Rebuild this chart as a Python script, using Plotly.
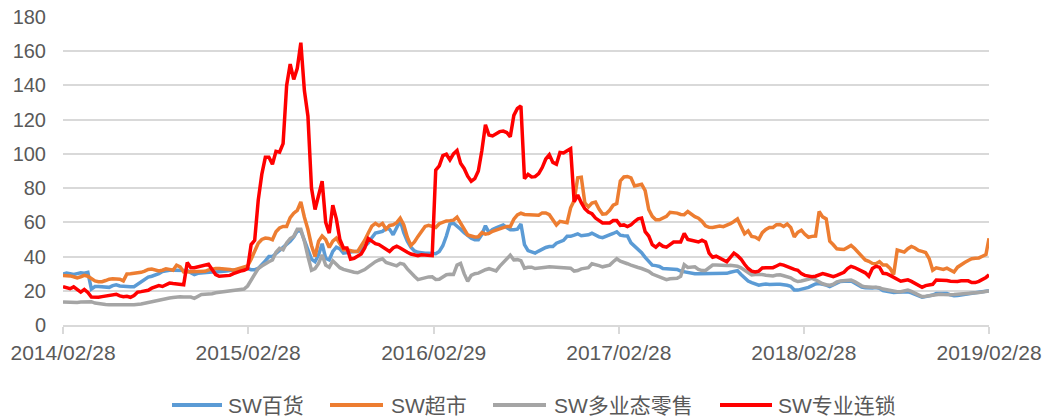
import pandas as pd
import plotly.graph_objects as go

# Weekly dates (Fridays) from 2014/02/28, plus final date 2019/02/28
dates = list(pd.date_range("2014-02-28", periods=261, freq="7D")) + [pd.Timestamp("2019-02-28")]

tick_dates = ["2014-02-28", "2015-02-28", "2016-02-29", "2017-02-28", "2018-02-28", "2019-02-28"]
tick_labels = ["2014/02/28", "2015/02/28", "2016/02/29", "2017/02/28", "2018/02/28", "2019/02/28"]

names = ["SW百货", "SW超市", "SW多业态零售", "SW专业连锁"]

sw_baihuo = [
    29.8, 30.3, 30, 29.5, 30, 30.5, 30.3, 30.8, 21, 22.5,
    22.5, 22.3, 22.2, 22, 23, 23.5, 22.8, 22.5, 22.4, 22.4,
    22.4, 23.8, 25.5, 27.2, 28, 28.5, 29.2, 30, 31.3, 31.8,
    32, 32, 32, 31.8, 32, 31.8, 30.5, 29.5, 30.2, 30.5,
    30.5, 30.8, 31, 31, 31, 31.3, 31.5, 31.8, 32, 32.3,
    32.5, 32.8, 33, 32.3, 32.3, 33, 35, 37.5, 40, 40,
    41.8, 43.5, 45, 47, 49, 51.5, 55, 55, 49.5, 43,
    38.5, 37, 41, 47.5, 39, 38, 43, 45.5, 44.5, 42,
    42.5, 43, 43, 43, 43.5, 46, 48, 51, 53.7, 54.2,
    54.7, 56.5, 56, 52.7, 57, 61, 54, 49, 45.5, 43.3,
    42.5, 42, 42, 42, 42, 41.7, 43, 46.3, 52, 59,
    59.5, 58, 56, 54, 52, 50.7, 49.8, 49.8, 53, 58,
    54, 55.8, 56.8, 57.6, 58.5, 57, 55.7, 55.7, 56, 59,
    47, 43.5, 42.7, 42, 43.2, 44.3, 45.3, 45.9, 45.9, 47.8,
    48.5, 49.5, 51.8, 51.8, 52.5, 53.3, 52.2, 52.3, 52.7, 53.6,
    52.5, 51.5, 51, 51.8, 52.3, 53.5, 54.5, 52.5, 52.2, 52,
    48, 46, 44.5, 42.2, 39.5, 37.3, 35, 34.7, 34.2, 33,
    32.8, 32.5, 32.5, 32.5, 31.5, 31, 31, 30.5, 30, 30,
    30, 30, 30.3, 30.5, 30.5, 30.3, 30, 30.2, 30.8, 31.4,
    31.8, 29.5, 27.5, 25.7, 24.8, 24, 23.3, 23.7, 24, 23.7,
    23.5, 23.8, 23.8, 23.6, 23.2, 22.6, 20.5, 20.4, 20.9, 21.4,
    22, 23, 24, 24.2, 23.9, 23.3, 22.4, 23.5, 24.8, 25.4,
    25.5, 25.8, 25.7, 24.6, 23.3, 22.1, 21.8, 21.6, 21.6, 21.9,
    21.5, 20.1, 19.7, 19.3, 19, 19.1, 19.3, 19.4, 19.4, 18.8,
    18.1, 17.1, 16.2, 16.6, 16.9, 17.5, 18.4, 18.3, 18.1, 18.4,
    17.6, 17.1, 17.3, 17.5, 17.8, 18.1, 18.5, 18.8, 19.1, 19.4,
    19.7, 20,
]

sw_chaoshi = [
    29, 29, 28.7, 28.2, 27.5, 28.2, 29, 28.5, 27.2, 25.8,
    25.3, 25.3, 26, 26.8, 27, 27, 26.8, 25.8, 29.8, 30,
    30.2, 30.5, 30.8, 31.5, 32.5, 32.7, 32, 31.6, 32, 32.8,
    32.5, 32, 35, 34, 31, 31, 31, 31, 31, 31,
    31.4, 32.2, 32.8, 33, 33, 33, 33, 32.5, 32, 32.6,
    33, 33.5, 34.5, 38.5, 43, 47.8, 50, 50.8, 50.6, 49.8,
    54.5, 56.7, 57.6, 57.6, 62.7, 65.3, 67, 72, 63, 55.8,
    46.5, 40, 49, 52, 50, 45.3, 49, 50.8, 47.5, 44,
    44, 43.3, 43, 43, 46, 49.5, 53.8, 57.8, 59.4, 58,
    59.3, 56, 58.2, 58.6, 59.8, 62.4, 58.5, 51.3, 46.5, 48.5,
    51.8, 54.9, 57.6, 58.3, 57.8, 57, 59.2, 60, 60.8, 61,
    61.3, 63, 59.8, 56.2, 52.6, 52, 51.4, 51.6, 54, 53.1,
    53.5, 54.8, 55.5, 56.2, 56.9, 57.6, 57.5, 61.8, 64.3, 65.3,
    64.6, 64.5, 64.3, 63.8, 64.1, 65.5, 65.5, 64.5, 61.2, 58.5,
    60.6, 60.4, 59.8, 68.5, 72.8, 86, 86.3, 71.4, 69, 71.3,
    71.8, 67.8, 64.8, 65, 67, 70, 71, 84.2, 86.5, 86.8,
    86, 81.3, 82, 82.3, 78.5, 67.5, 63.5, 61.5, 61.5, 62.5,
    63.5, 65.9, 65.7, 65.4, 64.6, 64.5, 66.3, 64.5, 63.3, 62.4,
    60.6, 58, 57.1, 57, 57.6, 57.8, 57.5, 58.3, 59.2, 60.5,
    62, 57.5, 53.3, 55, 51.8, 51.4, 50.1, 54, 55.9, 57,
    57, 58.6, 58.7, 57.6, 59, 57, 51.5, 54.2, 55.4, 53,
    51.3, 51.8, 52, 66.3, 63.2, 62, 49, 46.9, 44.5, 44.3,
    44.1, 45.3, 46.5, 44.7, 42.5, 40, 38, 37.2, 36, 35.8,
    37, 35, 35, 33.1, 29.5, 43.8, 43.2, 42.6, 44.6, 45.9,
    45, 43.6, 43, 42.4, 38.8, 32, 33.4, 33, 32.5, 33.2,
    32, 31, 33.8, 35.4, 36.5, 37.7, 38.7, 39, 39.2, 40.2,
    41.2, 50.7,
]

sw_duoyetai = [
    13.5, 13.3, 13.2, 13, 13.2, 13.4, 13.6, 13.9, 13.6, 12.8,
    12.4, 12.2, 12, 11.9, 11.8, 11.8, 11.7, 11.6, 11.7, 11.8,
    11.8, 11.9, 12.3, 12.7, 13.2, 13.8, 14.3, 14.7, 15, 15.4,
    15.8, 16.1, 16.5, 16.5, 16.4, 16.5, 16.3, 15.6, 16.8, 17.8,
    18, 18, 18.3, 18.8, 19.1, 19.3, 19.5, 19.8, 20.1, 20.5,
    20.5, 21, 22.8, 26, 29.5, 33, 34.5, 36, 37, 38,
    42.5, 44.8, 44, 48, 50.5, 51.8, 56, 56, 49, 40,
    32, 33, 36, 41, 35, 33.7, 37.5, 35.5, 33.5, 32.5,
    31.8, 31.2, 30.8, 30.5, 31.3, 32.4, 34, 35.6, 37, 38,
    38.7, 36.6, 36, 35.6, 34.6, 36, 35.5, 32.8, 30.4, 28.5,
    26.5, 27, 28, 28.1, 28.2, 26.6, 26.7, 28, 29.4, 29.6,
    29.5, 35, 36, 30, 25.5, 29, 30, 30.3, 31.6, 32.3,
    32.9, 32, 31.6, 34.3, 36.6, 38.8, 40.8, 38, 38.2, 37.6,
    33.2, 33.7, 33.8, 33, 33.1, 33.5, 33.8, 34, 33.9, 33.7,
    33.6, 33.5, 33.5, 33.2, 31.5, 31.8, 32.8, 33, 33.5, 35.8,
    35.4, 34.7, 34, 34.4, 35, 37, 38.7, 37.3, 36.3, 35.8,
    35, 34.1, 33.6, 33, 32.4, 31.4, 29.8, 28.9, 28.2, 27,
    26.5, 27, 27.1, 27.3, 28.5, 35.2, 33.6, 33.7, 34, 32.5,
    31.8, 31.9, 33.5, 35, 35, 34.8, 34.6, 34.7, 34.9, 34.8,
    34.4, 33.4, 31.9, 30.3, 29.3, 29.5, 29.7, 29.5, 29.1, 28.8,
    28.7, 29.2, 29.3, 28.8, 28.2, 27.6, 26.2, 25.4, 25.7, 26.3,
    26.9, 27.3, 26.4, 25.2, 24.1, 23.5, 23.3, 23.8, 25.2, 25.7,
    26, 26, 26.3, 25.4, 24.1, 22.9, 22.3, 22, 22, 22,
    21.8, 21, 20.5, 20.1, 19.8, 19.5, 19.5, 19.8, 20.4, 19.6,
    18.6, 17.6, 16.6, 16.8, 17.2, 17.7, 18, 18, 17.8, 17.6,
    17.7, 17.8, 17.9, 18.1, 18.4, 18.6, 18.7, 18.8, 19, 19.3,
    19.6, 19.9,
]

sw_zhuanye = [
    22.4, 22, 21.2, 22.3, 20.5, 19.2, 20.8, 19, 16.3, 16,
    16.2, 16.6, 17, 17.3, 17.7, 18, 17, 16.5, 16.8, 16.2,
    17.2, 19.2, 19.5, 19.8, 20.3, 21.5, 22.5, 23, 22.5, 23.5,
    24.5, 24.2, 24, 23.5, 23.5, 36.5, 33.5, 33.5, 34, 34,
    34.5, 35.5, 32.5, 29.5, 28.5, 28.5, 28.5, 29, 30, 31,
    31.5, 32, 33, 47, 49.5, 73, 88, 98, 98, 94,
    101.5, 101, 106, 140, 152.5, 143.5, 150, 165, 137, 122,
    80, 67.5, 75, 84, 60, 53.7, 70, 62, 50, 45,
    45, 38.5, 39, 40, 41.5, 45, 50.5, 49, 47.5, 47,
    45.5, 44, 43, 45, 46, 45, 43.5, 42.5, 41.5, 41,
    40.5, 41, 41, 40.5, 40.5, 90.5, 93, 99, 99.8, 96.5,
    100, 102, 94.5, 91.5, 87, 84, 85.5, 90, 102, 117,
    111, 110.5, 112, 113, 113.3, 112.5, 110, 122.5, 126.5, 128,
    85.5, 88, 86.5, 86.7, 88.5, 92, 97, 99.5, 95, 94,
    100.8, 100.5, 101.8, 103, 72, 76, 71.5, 68, 66, 65,
    62.5, 61, 59.6, 59.6, 59.6, 61, 61, 58.2, 58.5, 57.5,
    58.5, 60.5, 62, 62.5, 54.5, 52, 47, 45.5, 47.5, 46,
    45.5, 47, 48.5, 48.5, 48.5, 53.5, 50, 49.5, 49, 48.5,
    49.5, 48.5, 42, 39.6, 40.2, 39, 38, 37, 39.5, 42,
    40.5, 38.5, 35.5, 33, 31.5, 31, 31.5, 33.3, 33.5, 33.5,
    33.5, 34.5, 35.5, 35, 34, 33.3, 32.5, 32, 30, 29,
    28.5, 28.2, 28.5, 29.5, 30, 29.5, 28.8, 28.3, 29, 29.8,
    30.8, 33, 34.3, 33.6, 32.5, 31.5, 30.5, 28.5, 33, 34.3,
    33.8, 30.2, 30, 29, 27.7, 26.4, 25.6, 26, 26.4, 25.5,
    24.2, 23, 22, 23, 23.4, 23.8, 26.3, 26.3, 25.8, 26,
    25.6, 25.4, 25.4, 25.8, 26, 25.8, 24.8, 24.8, 25.5, 26.5,
    27.8, 29.3,
]

series = [sw_baihuo, sw_chaoshi, sw_duoyetai, sw_zhuanye]
colors = ["#5B9BD5", "#ED7D31", "#A5A5A5", "#FF0000"]

font_family = "Liberation Sans, Noto Sans CJK SC, sans-serif"
text_color = "#595959"
grid_color = "#D9D9D9"
FS = 21

# Figure fills the whole window (page body margin removed by post_script)
W, H = 1057, 416
ML, MR, MT, MB = 63, 68, 17, 91
PW, PH = W - ML - MR, H - MT - MB


def px_x(p):
    """window pixel x -> paper coordinate"""
    return (p - ML) / PW


def px_y(p):
    """window pixel y -> paper coordinate"""
    return (H - MB - p) / PH


fig = go.Figure()
for name, vals, col in zip(names, series, colors):
    n = min(len(vals), len(dates))
    fig.add_trace(go.Scatter(
        x=dates[:n], y=vals[:n], mode="lines", name=name,
        line=dict(color=col, width=3.5), hoverinfo="skip", showlegend=False,
    ))

# legend drawn manually (line sample + label), laid out like the original
legend_line_px = [(172, 222), (330, 383), (493, 546), (720, 772)]
legend_text_px = [226, 389, 552, 776]
legend_y = px_y(405)
shapes, annotations = [], []
for (a, b), tx, name, col in zip(legend_line_px, legend_text_px, names, colors):
    shapes.append(dict(type="line", xref="paper", yref="paper",
                       x0=px_x(a), x1=px_x(b), y0=legend_y, y1=legend_y,
                       line=dict(color=col, width=4)))
    annotations.append(dict(xref="paper", yref="paper", x=px_x(tx), y=legend_y,
                            xanchor="left", yanchor="middle", showarrow=False,
                            text=name, font=dict(family=font_family, size=FS, color=text_color)))

fig.update_layout(
    width=W, height=H,
    margin=dict(l=ML, r=MR, t=MT, b=MB, autoexpand=False),
    paper_bgcolor="white", plot_bgcolor="white",
    font=dict(family=font_family, size=FS, color=text_color),
    showlegend=False,
    shapes=shapes, annotations=annotations,
)

fig.update_xaxes(
    type="date",
    range=[tick_dates[0], tick_dates[-1]],
    tickvals=tick_dates, ticktext=tick_labels,
    showgrid=False, zeroline=False, automargin=False,
    showline=True, linecolor=grid_color, linewidth=1.5,
    ticks="outside", ticklen=7, tickcolor=grid_color, tickwidth=1.5,
    ticklabelstandoff=1, ticklabeloverflow="allow",
    tickfont=dict(family=font_family, size=FS, color=text_color),
)
fig.update_yaxes(
    range=[0, 180], dtick=20, tick0=0,
    showgrid=True, gridcolor=grid_color, gridwidth=1.5,
    zeroline=False, showline=False, ticks="", automargin=False,
    ticklabelstandoff=16, ticklabeloverflow="allow",
    tickfont=dict(family=font_family, size=20, color=text_color),
)

fig.write_html(
    "out.html",
    config={"displayModeBar": False},
    post_script="document.body.style.margin='0';document.body.style.padding='0';",
)
